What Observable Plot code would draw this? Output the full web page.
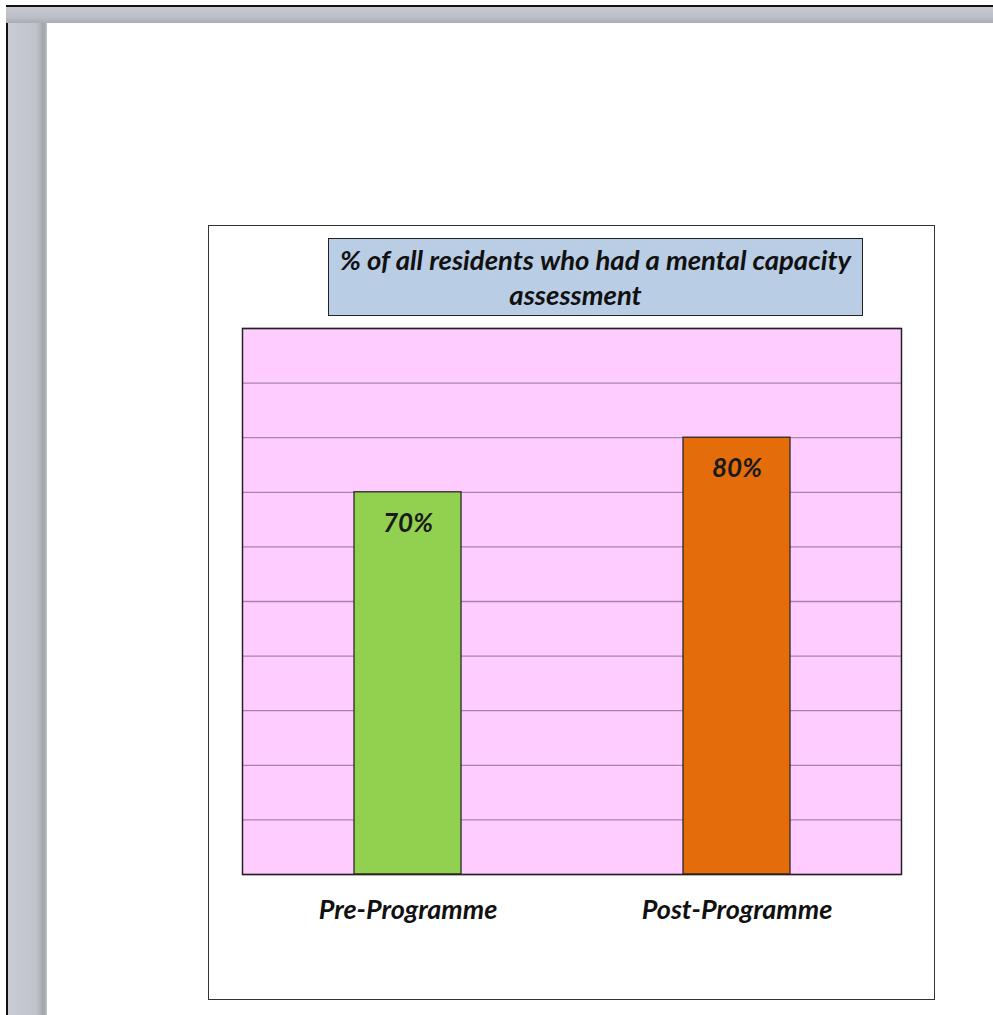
<!DOCTYPE html>
<html>
<head>
<meta charset="utf-8">
<script src="https://cdn.jsdelivr.net/npm/d3@7"></script>
<script src="https://cdn.jsdelivr.net/npm/@observablehq/plot@0.6"></script>
<style>
  html, body { margin: 0; padding: 0; width: 993px; height: 1015px; overflow: hidden; background: #fff; }
  #frameOuter { position: absolute; left: 6px; top: 5px; width: 987px; height: 1010px;
    border-left: 2px solid #111; border-top: 2px solid #111; box-sizing: border-box;
    background: linear-gradient(to right, #c9cdd3 0px, #c0c4ca 28px, #a2a6ac 36px, #c8ccd2 40px); }
  #topBar { position: absolute; left: 6px; top: 7px; width: 987px; height: 16px;
    background: linear-gradient(to bottom, #c6cad0 0px, #bcc0c6 10px, #aaaeb4 16px); }
  #page { position: absolute; left: 47px; top: 23px; width: 946px; height: 992px; background: #fff; }
  #chartFrame { position: absolute; left: 208px; top: 225px; width: 727px; height: 775px;
    border: 1.5px solid #333; box-sizing: border-box; background: #fff; }
  #titleBox { position: absolute; left: 328px; top: 238px; width: 535px; height: 78px;
    border: 1.5px solid #222; box-sizing: border-box; background: #b9cde5;
    font-family: Lato, "Open Sans", sans-serif; font-style: italic; font-weight: bold;
    font-size: 27.5px; line-height: 1.2; color: #111; text-align: center; }
  #titleBox div { position: absolute; left: 0; width: 100%; white-space: nowrap; }
  #chart { position: absolute; left: 208px; top: 316px; }
</style>
</head>
<body>
<div id="frameOuter"></div>
<div id="topBar"></div>
<div id="page"></div>
<div id="chartFrame"></div>
<div id="titleBox"></div>
<div id="chart"></div>
<script>
const titleLines = ["% of all residents who had a mental capacity", "assessment"];
const categories = ["Pre-Programme", "Post-Programme"];
const values = [70, 80];
const valueLabels = ["70%", "80%"];
const barColors = ["#92d050", "#e46c0a"];
const yTicks = [0, 10, 20, 30, 40, 50, 60, 70, 80, 90, 100];

const tb = document.getElementById("titleBox");
titleLines.forEach((t, i) => {
  const d = document.createElement("div");
  d.textContent = t;
  d.style.top = (i === 0 ? 4 : 39) + "px";
  if (i === 1) d.style.left = "-20px";
  tb.appendChild(d);
});

const data = categories.map((c, i) => ({cat: c, value: values[i], label: valueLabels[i], color: barColors[i]}));

const chart = Plot.plot({
  width: 727,
  height: 660,
  marginLeft: 34,
  marginRight: 34,
  marginTop: 12,
  marginBottom: 102,
  style: {background: "transparent", fontFamily: "Lato, 'Open Sans', sans-serif"},
  x: {domain: categories, paddingInner: 0.676, paddingOuter: 0.3365, label: null},
  y: {domain: [0, 100], label: null, axis: null},
  marks: [
    Plot.frame({fill: "#ffccff"}),
    Plot.gridY(yTicks, {stroke: "#a07ca0", strokeOpacity: 0.9, strokeWidth: 1.3}),
    Plot.barY(data, {x: "cat", y: "value", fill: "color", stroke: "#2a2a2a", strokeWidth: 1.3}),
    Plot.text(data, {x: "cat", y: "value", text: "label", dy: 31, fontSize: 26, fontWeight: "bold", fontStyle: "italic", fill: "#1a1a1a"}),
    Plot.frame({stroke: "#222", strokeWidth: 1.5}),
    Plot.axisX({tickSize: 0, tickPadding: 25, fontSize: 27, fontWeight: "bold", fontStyle: "italic", fill: "#111", label: null})
  ]
});
document.getElementById("chart").appendChild(chart);
</script>
</body>
</html>
